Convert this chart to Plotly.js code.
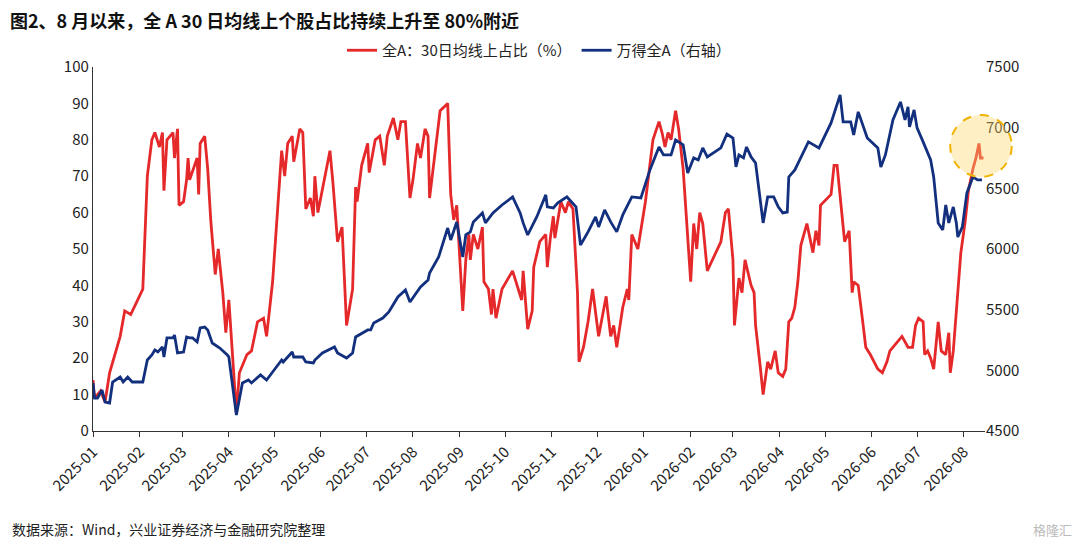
<!DOCTYPE html>
<html>
<head>
<meta charset="utf-8">
<script src="https://cdn.plot.ly/plotly-3.0.1.min.js"></script>
<style>
  body { margin: 0; background: #fff; }
  #chart { width: 1080px; height: 549px; }
</style>
</head>
<body>
<div id="chart"></div>
<script>
// days counted from 2025-01-01
const redDays = [0,1,5,8,11,18,21,25,33,36,39,41,44,46,47,49,53,54,56,57,60,62,63,64,69,70,71,74,76,78,81,83,86,88,90,95,97,102,105,109,113,115,119,125,127,129,132,133,137,139,141,144,146,147,149,155,157,159,162,165,168,172,174,175,178,182,183,187,190,193,195,199,202,204,207,210,212,215,217,220,222,223,230,235,237,239,241,245,247,249,250,252,255,258,259,262,264,265,267,271,278,284,285,288,291,292,296,300,301,303,305,306,310,313,315,318,321,322,325,328,331,335,340,341,343,345,347,351,354,355,357,361,366,371,375,377,379,381,383,386,388,391,394,396,398,400,402,404,407,416,419,421,424,425,428,430,432,436,438,439,442,444,447,449,452,454,457,459,461,463,465,467,469,472,473,477,479,481,482,489,491,493,497,498,501,503,504,507,510,512,515,520,523,526,528,530,536,540,543,545,547,550,551,553,555,557,560,562,565,567,568,570,573,575,578,580,583,585,587,588,590];
const redVals = [14,9,11,8,16,26,33,32,39,70,80,82,78,82,66,80,82,75,83,62,63,69,75,69,75,65,79,81,72,58,43,50,38,27,36,5,16,21,22,30,31,26,41,77,70,79,81,74,83,82,61,64,59,70,60,72,77,68,52,56,29,39,67,63,73,79,71,80,81,73,81,86,80,85,85,64,69,79,75,83,81,64,88,90,65,58,62,33,47,54,47,54,50,56,41,39,32,39,31,39,44,36,44,28,33,45,52,54,45,53,59,53,63,60,63,61,38,19,23,30,39,26,37,33,26,29,23,34,39,36,54,50,63,80,85,82,78,82,80,88,83,72,53,41,57,50,60,57,44,52,60,61,47,29,42,38,47,40,38,29,18,10,19,17,22,16,15,17,30,31,34,41,51,56,57,49,55,51,62,65,73,73,57,52,55,38,41,40,30,23,21,17,16,19,22,23,26,23,23,29,31,30,21,22,20,17,30,22,21,27,16,22,38,49,58,66,72,75,79,75,75];

const blueDays = [0,1,3,6,8,11,13,18,20,23,26,33,36,39,41,43,46,47,49,53,54,56,60,62,64,66,69,71,74,76,79,84,89,90,95,99,103,105,111,115,119,125,126,132,133,139,141,146,147,152,160,162,168,172,174,182,184,186,192,196,202,207,210,217,222,223,229,231,235,237,241,245,247,250,252,258,260,265,271,278,283,285,288,294,300,301,305,308,314,320,323,328,333,335,339,343,347,351,357,363,369,375,378,383,386,391,394,398,401,404,407,416,420,424,426,428,431,433,436,439,444,447,451,454,457,460,461,465,469,474,481,489,495,497,502,504,507,513,520,522,525,530,535,538,540,541,544,546,550,555,557,560,563,565,567,570,572,573,576,579,583,586,589];
const blueVals = [4896,4772,4772,4838,4739,4731,4904,4945,4904,4945,4904,4904,5085,5127,5168,5151,5193,5110,5267,5267,5291,5143,5151,5275,5267,5267,5234,5349,5357,5333,5225,5184,5127,5110,4632,4896,4920,4896,4962,4920,4986,5085,5069,5151,5110,5110,5069,5061,5085,5143,5193,5143,5102,5143,5275,5333,5333,5390,5431,5481,5605,5662,5563,5687,5745,5802,5934,6017,6173,6074,6223,5934,6116,6141,6223,6297,6215,6297,6363,6429,6297,6215,6116,6264,6446,6347,6338,6380,6429,6347,6033,6141,6264,6182,6322,6223,6141,6281,6429,6421,6652,6841,6775,6775,6899,6858,6627,6751,6734,6833,6759,6833,6948,6915,6676,6775,6751,6841,6759,6709,6215,6429,6429,6347,6297,6305,6594,6652,6759,6883,6833,7039,7270,7047,7047,6940,7130,6915,6833,6676,6775,7064,7212,7064,7171,7006,7146,6998,6883,6734,6594,6215,6157,6363,6215,6347,6215,6099,6182,6462,6594,6570,6570];

const redName = '全A：30日均线上占比（%）';
const blueName = '万得全A（右轴）';

function toDate(d) {
  const t = new Date(Date.UTC(2025, 0, 1) + d * 86400000);
  return t.toISOString().slice(0, 10);
}

const font = "'Noto Sans CJK SC', 'Noto Sans', sans-serif";

const traces = [
  { x: redDays.map(toDate), y: redVals, name: redName, type: 'scatter', mode: 'lines',
    line: { color: '#e5282a', width: 2.8 } },
  { x: blueDays.map(toDate), y: blueVals, name: blueName, type: 'scatter', mode: 'lines',
    yaxis: 'y2', line: { color: '#13307f', width: 2.8 } }
];

const layout = {
  width: 1080, height: 549,
  margin: { l: 93, r: 95, t: 67, b: 118 },
  paper_bgcolor: '#fff', plot_bgcolor: '#fff',
  font: { family: font, size: 15, color: '#222' },
  showlegend: true,
  legend: { orientation: 'h', x: 0.5, xanchor: 'center', y: 1.0, yanchor: 'bottom',
    font: { size: 15 }, bgcolor: 'rgba(0,0,0,0)' },
  xaxis: {
    type: 'date', range: ['2025-01-01', '2026-08-15'],
    dtick: 'M1', tick0: '2025-01-01', tickformat: '%Y-%m', tickangle: -45,
    ticks: 'outside', ticklen: 5, tickcolor: '#333',
    showline: true, linecolor: '#333', linewidth: 1.2, showgrid: false, zeroline: false,
    tickfont: { size: 15 }
  },
  yaxis: {
    range: [0, 100], dtick: 10, showline: true, linecolor: '#333', linewidth: 1.2,
    ticks: '', showgrid: false, zeroline: false, tickfont: { size: 15 }
  },
  yaxis2: {
    range: [4500, 7500], dtick: 500, overlaying: 'y', side: 'right',
    showline: false, ticks: '', showgrid: false, zeroline: false, tickfont: { size: 15 }
  },
  shapes: [
    { type: 'circle', xref: 'paper', yref: 'paper', x0: 0.961, x1: 1.030, y0: 0.698, y1: 0.868,
      fillcolor: 'rgba(253,215,110,0.4)', line: { color: '#f0b400', width: 2, dash: 'dash' } }
  ],
  annotations: [
    { text: '<b>图2、8 月以来，全 A 30 日均线上个股占比持续上升至 80%附近</b>',
      xref: 'paper', yref: 'paper', x: -0.095, y: 1.13, xanchor: 'left', yanchor: 'middle',
      showarrow: false, font: { size: 18, color: '#111' } },
    { text: '数据来源：Wind，兴业证券经济与金融研究院整理',
      xref: 'paper', yref: 'paper', x: -0.093, y: -0.27, xanchor: 'left', yanchor: 'middle',
      showarrow: false, font: { size: 14, color: '#222' } },
    { text: '格隆汇', xref: 'paper', yref: 'paper', x: 1.1, y: -0.27, xanchor: 'right', yanchor: 'middle',
      showarrow: false, font: { size: 13, color: '#bbb' } }
  ]
};

Plotly.newPlot('chart', traces, layout, { displayModeBar: false, staticPlot: true });
</script>
</body>
</html>
